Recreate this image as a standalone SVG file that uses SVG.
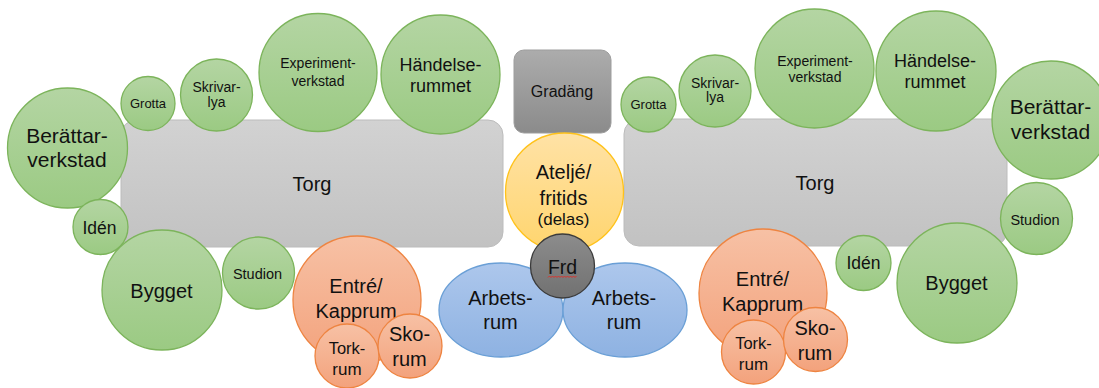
<svg xmlns="http://www.w3.org/2000/svg" width="1099" height="388" viewBox="0 0 1099 388">
<defs>
<linearGradient id="gGreen" x1="0" y1="0" x2="0" y2="1"><stop offset="0" stop-color="#b4d5a3"/><stop offset="1" stop-color="#9bca83"/></linearGradient>
<linearGradient id="gOrange" x1="0" y1="0" x2="0" y2="1"><stop offset="0" stop-color="#f7c1a5"/><stop offset="1" stop-color="#f3a27c"/></linearGradient>
<linearGradient id="gBlue" x1="0" y1="0" x2="0" y2="1"><stop offset="0" stop-color="#adc7ec"/><stop offset="1" stop-color="#8eb2e2"/></linearGradient>
<linearGradient id="gYellow" x1="0" y1="0" x2="0" y2="1"><stop offset="0" stop-color="#ffe2a6"/><stop offset="1" stop-color="#ffd56e"/></linearGradient>
<linearGradient id="gTorg" x1="0" y1="0" x2="0" y2="1"><stop offset="0" stop-color="#d2d2d2"/><stop offset="1" stop-color="#c2c2c2"/></linearGradient>
<linearGradient id="gGrad" x1="0" y1="0" x2="0" y2="1"><stop offset="0" stop-color="#acacac"/><stop offset="1" stop-color="#8b8b8b"/></linearGradient>
<linearGradient id="gFrd" x1="0" y1="0" x2="0" y2="1"><stop offset="0" stop-color="#8c8c8c"/><stop offset="1" stop-color="#717171"/></linearGradient>
</defs>
<style>
text{font-family:"Liberation Sans",Arial,sans-serif;fill:#111;text-anchor:middle}
.green{fill:url(#gGreen);stroke:#7cb45b;stroke-width:1.3}
.orange{fill:url(#gOrange);stroke:#ee8441;stroke-width:1.3}
.blue{fill:url(#gBlue);stroke:#6a9fd6;stroke-width:1.3}
.yellow{fill:url(#gYellow);stroke:#ffc21a;stroke-width:1.3}
.torg{fill:url(#gTorg);stroke:#bcbcbc;stroke-width:1}
.grad{fill:url(#gGrad);stroke:#9d9d9d;stroke-width:1}
.frd{fill:url(#gFrd);stroke:#3b3b3b;stroke-width:1.3}
.s13{font-size:13px}.s14{font-size:14px}.s15{font-size:14.5px}.s16{font-size:16px}.s17{font-size:17px}.s18{font-size:18px}.s20{font-size:20px}.s21{font-size:21px}
</style>

<!-- Torg rectangles (background) -->
<g id="torg-left"><rect class="torg" x="121" y="120" width="382" height="127" rx="15"/><text class="s20" x="312" y="191">Torg</text></g>
<g id="torg-right"><rect class="torg" x="624" y="119" width="383" height="127" rx="15"/><text class="s20" x="815" y="190">Torg</text></g>

<!-- Center -->
<g id="gradang"><rect class="grad" x="514" y="50" width="97" height="83" rx="10"/><text class="s16" x="562" y="97" fill="#222">Gradäng</text></g>
<g id="atelje"><circle class="yellow" cx="564.5" cy="192" r="59"/><text class="s20" x="563.5" y="179">Ateljé/</text><text class="s20" x="563.5" y="205">fritids</text><text class="s17" x="563.5" y="225">(delas)</text></g>
<g id="arbetsrum-left"><ellipse class="blue" cx="501" cy="310" rx="62" ry="47"/><text class="s20" x="500.5" y="305">Arbets-</text><text class="s20" x="500.5" y="329">rum</text></g>
<g id="arbetsrum-right"><ellipse class="blue" cx="625" cy="310" rx="62" ry="47"/><text class="s20" x="624" y="305">Arbets-</text><text class="s20" x="624" y="329">rum</text></g>
<g id="frd"><circle class="frd" cx="562.5" cy="266" r="32"/><text class="s19" style="font-size:19.5px" x="562.5" y="274">Frd</text><path d="M548 277.5 l1.5 -1.5 l1.5 1.5 l1.5 -1.5 l1.5 1.5 l1.5 -1.5 l1.5 1.5 l1.5 -1.5 l1.5 1.5 l1.5 -1.5 l1.5 1.5 l1.5 -1.5 l1.5 1.5 l1.5 -1.5 l1.5 1.5 l1.5 -1.5 l1.5 1.5 l1.5 -1.5 l1.5 1.5 l1.5 -1.5" fill="none" stroke="#e0302a" stroke-width="1"/></g>

<!-- Left wing -->
<g id="l-berattar"><circle class="green" cx="67.5" cy="148" r="60"/><text class="s21" x="67" y="143">Berättar-</text><text class="s21" x="67" y="167">verkstad</text></g>
<g id="l-grotta"><circle class="green" cx="148" cy="103.5" r="27"/><text class="s13" x="148" y="108">Grotta</text></g>
<g id="l-skrivar"><circle class="green" cx="216.5" cy="95" r="36"/><text class="s14" x="216.5" y="92">Skrivar-</text><text class="s14" x="216.5" y="107">lya</text></g>
<g id="l-experiment"><circle class="green" cx="318" cy="72.5" r="59"/><text class="s14" x="318" y="68">Experiment-</text><text class="s14" x="318" y="85.5">verkstad</text></g>
<g id="l-handelse"><circle class="green" cx="440.5" cy="74.5" r="59.5"/><text class="s18" x="440.5" y="70.5">Händelse-</text><text class="s18" x="440.5" y="91.5">rummet</text></g>
<g id="l-iden"><circle class="green" cx="100.5" cy="227" r="27.5"/><text class="s17" style="font-size:17.5px" x="99.5" y="233.5">Idén</text></g>
<g id="l-bygget"><circle class="green" cx="162" cy="290" r="60"/><text class="s20" x="161.5" y="297.5">Bygget</text></g>
<g id="l-studion"><circle class="green" cx="258.5" cy="273" r="36"/><text class="s15" x="257.5" y="278.5">Studion</text></g>
<g id="l-entre"><circle class="orange" cx="357" cy="300" r="64"/><text class="s20" x="356" y="292.5">Entré/</text><text class="s20" x="356" y="318">Kapprum</text></g>
<g id="l-tork"><circle class="orange" cx="347" cy="356" r="32"/><text class="s17" style="font-size:16.5px" x="347" y="354">Tork-</text><text class="s17" x="347" y="375">rum</text></g>
<g id="l-sko"><circle class="orange" cx="410" cy="346" r="32"/><text class="s20" x="409.5" y="340.5">Sko-</text><text class="s20" x="409.5" y="365.5">rum</text></g>

<!-- Right wing -->
<g id="r-grotta"><circle class="green" cx="648.5" cy="104.5" r="27.5"/><text class="s13" x="648.5" y="109">Grotta</text></g>
<g id="r-skrivar"><circle class="green" cx="715" cy="91" r="36"/><text class="s14" x="715" y="87.5">Skrivar-</text><text class="s14" x="715" y="102">lya</text></g>
<g id="r-experiment"><circle class="green" cx="814.5" cy="68.5" r="59.5"/><text class="s14" x="815" y="65.5">Experiment-</text><text class="s14" x="815" y="82">verkstad</text></g>
<g id="r-handelse"><circle class="green" cx="936" cy="71" r="60"/><text class="s18" x="935" y="66.5">Händelse-</text><text class="s18" x="935" y="87.5">rummet</text></g>
<g id="r-berattar"><circle class="green" cx="1051" cy="120" r="59"/><text class="s21" x="1050.5" y="114">Berättar-</text><text class="s21" x="1050.5" y="138.5">verkstad</text></g>
<g id="r-studion"><circle class="green" cx="1036.5" cy="218.5" r="36"/><text class="s15" x="1035" y="225">Studion</text></g>
<g id="r-iden"><circle class="green" cx="863.5" cy="263" r="27.5"/><text class="s17" style="font-size:17.5px" x="863.5" y="269">Idén</text></g>
<g id="r-bygget"><circle class="green" cx="957" cy="283" r="60"/><text class="s20" x="956.5" y="290">Bygget</text></g>
<g id="r-entre"><circle class="orange" cx="763" cy="293" r="64"/><text class="s20" x="762.5" y="286">Entré/</text><text class="s20" x="762.5" y="311">Kapprum</text></g>
<g id="r-tork"><circle class="orange" cx="753.5" cy="352" r="32"/><text class="s17" style="font-size:16.5px" x="753.5" y="348.5">Tork-</text><text class="s17" x="753.5" y="370">rum</text></g>
<g id="r-sko"><circle class="orange" cx="815.5" cy="339.5" r="32"/><text class="s20" x="815" y="335">Sko-</text><text class="s20" x="815" y="359.5">rum</text></g>

<g id="connectors"/>
</svg>
